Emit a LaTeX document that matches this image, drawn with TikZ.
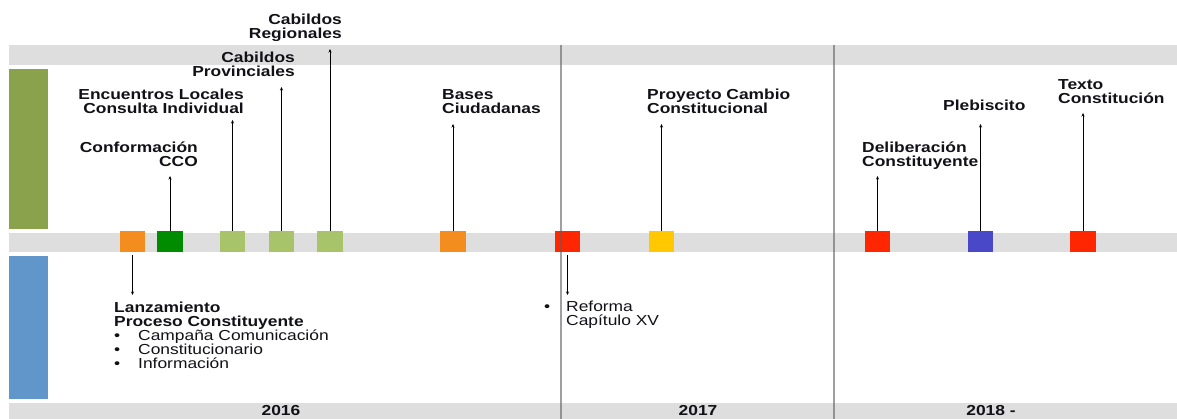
\documentclass[tikz,border=0pt]{standalone}
\usepackage{fontspec}
\setmainfont[FakeStretch=1.2]{Liberation Sans}
\usetikzlibrary{arrows.meta}
\definecolor{bargray}{HTML}{DEDEDE}
\definecolor{divgray}{HTML}{606060}
\definecolor{sidegreen}{HTML}{8AA24B}
\definecolor{sideblue}{HTML}{6196CA}
\definecolor{evorange}{HTML}{F28D1E}
\definecolor{evdgreen}{HTML}{008C00}
\definecolor{evlgreen}{HTML}{A8C46B}
\definecolor{evred}{HTML}{FF2600}
\definecolor{evyellow}{HTML}{FFC800}
\definecolor{evblue}{HTML}{4848C8}
\definecolor{txt}{HTML}{111118}
\tikzset{
  sq/.style={draw=none, minimum width=25.5pt, minimum height=21pt, inner sep=0pt},
  arr/.style={draw=black, line width=0.9pt, -{Stealth[length=3.5pt,width=3pt]}},
  lbl/.style={inner sep=0pt, text=txt, font=\fontsize{14.5}{14}\selectfont\bfseries},
  lblr/.style={inner sep=0pt, text=txt, font=\fontsize{14.5}{14}\selectfont},
  divider/.style={draw=divgray, opacity=0.6, line width=2pt},
}
\begin{document}
\begin{tikzpicture}[x=1pt,y=-1pt]
\useasboundingbox (0,0) rectangle (1177,419);
\fill[white] (0,0) rectangle (1177,419);
% bars
\fill[bargray] (9,45) rectangle (1177,65);
\fill[bargray] (9,233) rectangle (1177,252);
\fill[bargray] (9,403) rectangle (1177,419);
\fill[sidegreen] (9,69) rectangle (48,229);
\fill[sideblue] (9,256) rectangle (48,399);
% squares
\node[sq, fill=evorange] (s1) at (132.5,241.5) {};
\node[sq, fill=evdgreen] (s2) at (170,241.5) {};
\node[sq, fill=evlgreen] (s3) at (232.5,241.5) {};
\node[sq, fill=evlgreen] (s4) at (281.5,241.5) {};
\node[sq, fill=evlgreen] (s5) at (330,241.5) {};
\node[sq, fill=evorange] (s6) at (453,241.5) {};
\node[sq, fill=evred] (s7) at (567.5,241.5) {};
\node[sq, fill=evyellow] (s8) at (661.5,241.5) {};
\node[sq, fill=evred] (s9) at (877.5,241.5) {};
\node[sq, fill=evblue] (s10) at (980.5,241.5) {};
\node[sq, fill=evred] (s11) at (1083,241.5) {};
% dividers
\coordinate (d1t) at (561,45);
\coordinate (d1b) at (561,419);
\coordinate (d2t) at (834,45);
\coordinate (d2b) at (834,419);
\draw[divider] (d1t) -- (d1b);
\draw[divider] (d2t) -- (d2b);
% arrow tips
\coordinate (t2) at (170,176);
\coordinate (t3) at (232.5,120);
\coordinate (t4) at (281.5,87);
\coordinate (t5) at (330,49);
\coordinate (t6) at (453,124);
\coordinate (t8) at (661.5,124);
\coordinate (t9) at (877.5,176);
\coordinate (t10) at (980.5,124);
\coordinate (t11) at (1083,113);
\coordinate (b1) at (132.5,295);
\coordinate (b7) at (567.5,295);
\draw[arr] (s2.north) -- (t2);
\draw[arr] (s3.north) -- (t3);
\draw[arr] (s4.north) -- (t4);
\draw[arr] (s5.north) -- (t5);
\draw[arr] (s6.north) -- (t6);
\draw[arr] (s8.north) -- (t8);
\draw[arr] (s9.north) -- (t9);
\draw[arr] (s10.north) -- (t10);
\draw[arr] (s11.north) -- (t11);
\draw[arr] ([yshift=-3pt]s1.south) -- (b1);
\draw[arr] ([yshift=-3pt]s7.south) -- (b7);
% labels (base anchor = baseline of last line)
\node[lbl, anchor=base east, align=right] (l2) at (198,167) {Conformación\\CCO};
\node[lbl, anchor=base east, align=right] (l3) at (244,114) {Encuentros Locales\\Consulta Individual};
\node[lbl, anchor=base east, align=right] (l4) at (295,77) {Cabildos\\Provinciales};
\node[lbl, anchor=base east, align=right] (l5) at (342,39) {Cabildos\\Regionales};
\node[lbl, anchor=base west, align=left] (l6) at (442,114) {Bases\\Ciudadanas};
\node[lbl, anchor=base west, align=left] (l8) at (647,114) {Proyecto Cambio\\Constitucional};
\node[lbl, anchor=base west, align=left] (l9) at (862,167) {Deliberación\\Constituyente};
\node[lbl, anchor=base west, align=left] (l10) at (943,111) {Plebiscito};
\node[lbl, anchor=base west, align=left] (l11) at (1058,104) {Texto\\Constitución};
\node[lblr, anchor=base west, align=left] (l1) at (114,368) {\textbf{Lanzamiento}\\\textbf{Proceso Constituyente}\\\makebox[24pt][l]{•}Campaña Comunicación\\\makebox[24pt][l]{•}Constitucionario\\\makebox[24pt][l]{•}Información};
\node[lblr, anchor=base west, align=left] (l7) at (566,326) {\llap{•\hspace{16pt}}Reforma\\Capítulo XV};
% years
\node[lbl, anchor=base] (y1) at (281,415) {2016};
\node[lbl, anchor=base] (y2) at (698,415) {2017};
\node[lbl, anchor=base] (y3) at (991,415) {2018 -};
\end{tikzpicture}
\end{document}
